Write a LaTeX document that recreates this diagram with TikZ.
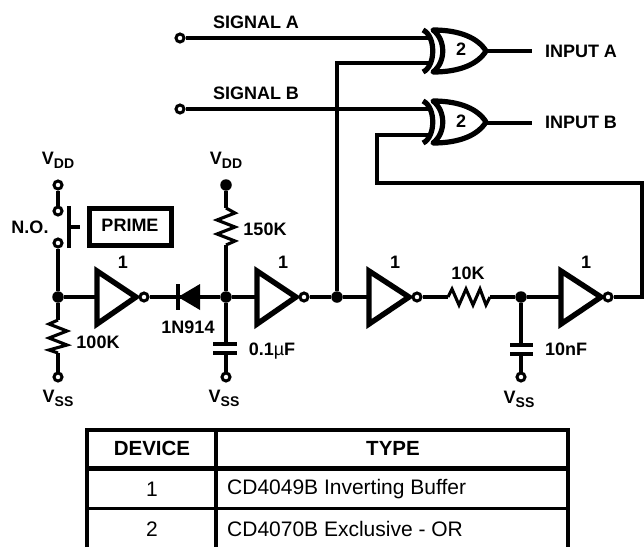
\documentclass[tikz,border=0pt]{standalone}
\usepackage{fontspec}
\setmainfont{Liberation Sans}
\usepackage{tikz}
\newcommand{\lowtxt}[1]{\raisebox{-4pt}{\fontsize{14}{14}\selectfont #1}}
\tikzset{
	wire/.style = {line width = 3.1},
	gate/.style = {line width = 5.4, line join = miter},
	xorgate/.style = {line width = 5.2, line join = round},
	plate/.style = {line width = 3.4},
	bubble/.style = {circle, draw, line width = 3, fill = white, inner sep = 0, minimum size = 8},
	joint/.style = {circle, fill = black, inner sep = 0, minimum size = 11.5},
	lab/.style = {inner sep = 0, font = \fontsize{18}{20}\selectfont\bfseries},
	cell/.style = {inner sep = 0, font = \fontsize{21}{24}\selectfont},
	head/.style = {inner sep = 0, font = \fontsize{20.5}{24}\selectfont\bfseries}
}

\begin{document}
\begin{tikzpicture}[x = 1pt, y = -1pt]
	\useasboundingbox (0,0) rectangle (644,547);
	% terminals and joints
	\node [bubble] (sigA) at (180,38) {};
	\node [bubble] (sigB) at (180,109) {};
	\node [bubble] (vddA) at (58,185) {};
	\node [bubble] (swA) at (58,211) {};
	\node [bubble] (swB) at (58,243) {};
	\node [joint] (jA) at (58,297) {};
	\node [bubble] (vssA) at (58,377) {};
	\node [joint] (vddB) at (226,185) {};
	\node [joint] (jB) at (226,297) {};
	\node [bubble] (vssB) at (226,377) {};
	\node [joint] (jC) at (337,297) {};
	\node [joint] (jD) at (521,297) {};
	\node [bubble] (vssC) at (521,377) {};
	\node [bubble] (outA) at (144,297) {};
	\node [bubble] (outB) at (304,297) {};
	\node [bubble] (outC) at (417,297) {};
	\node [bubble] (outD) at (608,297) {};
	\coordinate (inA) at (97,297);
	\coordinate (inB) at (257,297);
	\coordinate (inC) at (369,297);
	\coordinate (inD) at (561,297);
	\coordinate (xaT) at (431,38);
	\coordinate (xaL) at (431,63);
	\coordinate (xaO) at (486,51);
	\coordinate (xaE) at (532,51);
	\coordinate (xbT) at (431,109);
	\coordinate (xbL) at (431,135);
	\coordinate (xbO) at (486,123);
	\coordinate (xbE) at (532,123);
	\coordinate (r1a) at (58,320);
	\coordinate (r1b) at (58,353);
	\coordinate (r2a) at (226,208);
	\coordinate (r2b) at (226,245);
	\coordinate (r3a) at (448,297);
	\coordinate (r3b) at (490,297);
	\coordinate (c1a) at (226,344);
	\coordinate (c1b) at (226,353);
	\coordinate (c2a) at (521,345);
	\coordinate (c2b) at (521,354);
	% wires
	\draw [wire] (vddA) -- (swA);
	\draw [wire] (swB) -- (jA);
	\draw [wire] (jA) -- (r1a);
	\draw [wire] (r1b) -- (vssA);
	\draw [wire] (jA) -- (inA);
	\draw [wire] (outA) -- (jB);
	\draw [wire] (vddB) -- (r2a);
	\draw [wire] (r2b) -- (jB);
	\draw [wire] (jB) -- (c1a);
	\draw [wire] (c1b) -- (vssB);
	\draw [wire] (jB) -- (inB);
	\draw [wire] (outB) -- (jC);
	\draw [wire] (jC) -- (inC);
	\draw [wire] (outC) -- (r3a);
	\draw [wire] (r3b) -- (jD);
	\draw [wire] (jD) -- (c2a);
	\draw [wire] (c2b) -- (vssC);
	\draw [wire] (jD) -- (inD);
	\draw [wire] (sigA) -- (xaT);
	\draw [wire] (sigB) -- (xbT);
	\draw [wire] (jC) |- (xaL);
	\draw [wire] (xaO) -- (xaE);
	\draw [wire] (xbO) -- (xbE);
	\draw [wire, line join = miter] (outD) -- (642,297) -- (642,183) -- (377,183) -- (377,135) -- (xbL);
	% inverters
	\draw [gate] (97,271) -- (136,297) -- (97,324) -- cycle;
	\draw [gate] (257,271) -- (296,297) -- (257,324) -- cycle;
	\draw [gate] (369,271) -- (409,297) -- (369,324) -- cycle;
	\draw [gate] (561,271) -- (601,297) -- (561,324) -- cycle;
	% exclusive-or gates
	\draw [xorgate] (423,30) .. controls (436,36) and (436,66) .. (423,72);
	\draw [xorgate] (433,30) .. controls (446,40) and (446,62) .. (433,72) .. controls (460,72) and (478,64) .. (486,51) .. controls (478,38) and (460,30) .. (433,30) -- cycle;
	\draw [xorgate] (423,101) .. controls (436,107) and (436,137) .. (423,143);
	\draw [xorgate] (433,101) .. controls (446,111) and (446,133) .. (433,143) .. controls (460,143) and (478,135) .. (486,122) .. controls (478,109) and (460,101) .. (433,101) -- cycle;
	% diode
	\fill (200,284) -- (178,297) -- (200,310) -- cycle;
	\draw [plate] (178,284) -- (178,310);
	% resistors
	\draw [wire] (r1a) -- (49,324) -- (67,331) -- (49,338) -- (67,345) -- (49,350) -- (r1b);
	\draw [wire] (r2a) -- (235,213) -- (217,220) -- (235,227) -- (217,234) -- (235,241) -- (r2b);
	\draw [wire] (r3a) -- (452,289) -- (459,305) -- (466,289) -- (473,305) -- (480,289) -- (486,305) -- (r3b);
	% capacitors
	\draw [plate] (213,344) -- (237,344);
	\draw [plate] (213,353) -- (237,353);
	\draw [plate] (510,345) -- (533,345);
	\draw [plate] (510,354) -- (533,354);
	% switch
	\draw [plate] (69,206) -- (69,248);
	\draw [plate] (69,227) -- (80,227);
	\node [draw, line width = 5, inner sep = 0, minimum width = 82, minimum height = 37, lab] (prime) at (130,226.5) {\raisebox{3pt}{PRIME}};
	% labels
	\node [lab] (sigAl) at (256,22) {SIGNAL A};
	\node [lab] (sigBl) at (256,93) {SIGNAL B};
	\node [lab] (inputA) at (581,51) {INPUT A};
	\node [lab] (inputB) at (581,122) {INPUT B};
	\node [lab] (xa) at (461,49) {2};
	\node [lab] (xb) at (461,121) {2};
	\node [lab] (noswitch) at (30,227) {N.O.};
	\node [lab] (vddAl) at (58,160) {V\lowtxt{DD}};
	\node [lab] (vddBl) at (226,160) {V\lowtxt{DD}};
	\node [lab] (vssAl) at (58,398) {V\lowtxt{SS}};
	\node [lab] (vssBl) at (224,398) {V\lowtxt{SS}};
	\node [lab] (vssCl) at (519,399) {V\lowtxt{SS}};
	\node [lab] (invAl) at (123,262) {1};
	\node [lab] (invBl) at (283,262) {1};
	\node [lab] (invCl) at (395,262) {1};
	\node [lab] (invDl) at (586,262) {1};
	\node [lab] (r1l) at (98,342) {100K};
	\node [lab] (r2l) at (265,229) {150K};
	\node [lab] (r3l) at (468,273) {10K};
	\node [lab] (diodel) at (188,327) {1N914};
	\node [lab] (c1l) at (272,351) {0.1{\mdseries µ}F};
	\node [lab] (c2l) at (566,349) {10nF};
	% table
	\draw [line width = 4] (87,547) -- (87,430) -- (568,430) -- (568,547);
	\draw [line width = 5] (87,468) -- (568,468);
	\draw [line width = 3] (87,508) -- (568,508);
	\draw [line width = 3.5] (216,430) -- (216,547);
	\node [head] (device) at (152,448) {DEVICE};
	\node [head] (type) at (393,448) {TYPE};
	\node [cell] (one) at (152,489) {1};
	\node [cell, right] (bufr) at (227,489) {CD4049B Inverting Buffer};
	\node [cell] (two) at (152,529) {2};
	\node [cell, right] (xorr) at (227,529) {CD4070B Exclusive - OR};
\end{tikzpicture}
\end{document}
